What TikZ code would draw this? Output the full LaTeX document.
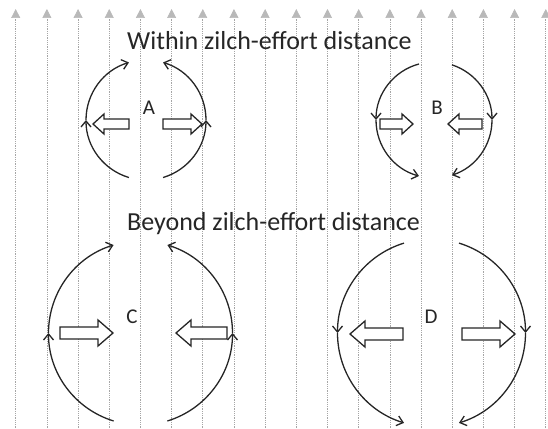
\documentclass[tikz,border=0pt]{standalone}
\usepackage{fontspec}
\setmainfont{Carlito}
\usepackage{tikz}
\usetikzlibrary{arrows.meta,calc}

\begin{document}
\begin{tikzpicture}[x=1pt, y=1pt, >={Straight Barb[length=6pt,width=10pt]},
  field/.style={gray!70, line width=0.7pt, dash pattern=on 0.7pt off 1.1pt,
    -{Triangle[length=9pt,width=9pt,fill=gray!55,color=gray!55]}},
  swirl/.style={->, black!85, line width=1.3pt},
  push/.style={draw=black!85, fill=white, line width=1.3pt, line join=miter},
  title/.style={anchor=base west, inner sep=0pt, font=\fontsize{26}{30}\selectfont, text=black!85},
  letter/.style={inner sep=0pt, font=\fontsize{21}{25}\selectfont, text=black!85}]
  \useasboundingbox (0,0) rectangle (548,428);

  % Field lines
  \foreach \k in {0,...,17}
    \draw[field] (15.7+31.18*\k, 0) -- (15.7+31.18*\k, 419);

  % Headings
  \node[title] (within) at (127,378) {Within zilch-effort distance};
  \node[title] (beyond) at (127,197) {Beyond zilch-effort distance};

  % Centres of the four cases
  \coordinate (cA) at (146,308);
  \coordinate (cB) at (434,308);
  \coordinate (cC) at (140.5,95);
  \coordinate (cD) at (431.5,95);

  % Curved flows
  \foreach \s/\e in {253.5/180, 180/106.5, 286.5/360, 0/73.5}
    \draw[swirl] (cA) ++(\s:60) arc[start angle=\s, end angle=\e, radius=60];
  \foreach \s/\e in {105/180, 180/255, 72/0, 0/-72}
    \draw[swirl] (cB) ++(\s:58) arc[start angle=\s, end angle=\e, radius=58];
  \foreach \s/\e in {253/180, 180/107, 287/360, 0/73}
    \draw[swirl] (cC) ++(\s:92) arc[start angle=\s, end angle=\e, radius=92];
  \foreach \s/\e in {107/180, 180/253, 73/0, 0/-73}
    \draw[swirl] (cD) ++(\s:94) arc[start angle=\s, end angle=\e, radius=94];

  % Block arrows: tail/tip/y/half shaft/half head/head length
  \foreach \a/\b/\y/\s/\h/\l in {129/93/304/5/10/11, 163/202/304/5/10/11,
      380/413/304/5/10/11, 482/448/304/5/10/11,
      60/113/95/6/13/15, 227/176/95/6/13/15,
      403/350/94/6/13/15, 462/515/94/6/13/15} {
    \pgfmathsetmacro\c{\b-\l*sign(\b-\a)}
    \draw[push] (\a,\y-\s) -- (\c,\y-\s) -- (\c,\y-\h) -- (\b,\y)
      -- (\c,\y+\h) -- (\c,\y+\s) -- (\a,\y+\s) -- cycle;
  }

  % Case labels
  \node[letter] (labA) at (149,320) {A};
  \node[letter] (labB) at (437,320) {B};
  \node[letter] (labC) at (132,111) {C};
  \node[letter] (labD) at (431,111) {D};
\end{tikzpicture}
\end{document}
